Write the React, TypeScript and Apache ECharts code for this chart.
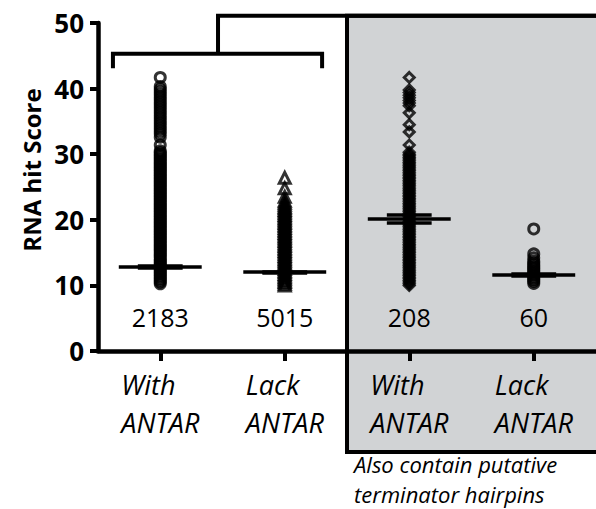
import React, { useEffect, useRef } from "react";
import * as echarts from "echarts";

const categories = ["With\nANTAR", "Lack\nANTAR", "With\nANTAR", "Lack\nANTAR"];
const counts = ["2183", "5015", "208", "60"];
const yTicks = { min: 0, max: 50, interval: 10 };
const yAxisTitle = "RNA hit Score";
const footnoteLines = ["Also contain putative", "terminator hairpins"];

// scores (overlapping markers)
const withAntarScores = [
  41.7, 40.3, 39.9, 39.5, 39.1, 38.7, 38.3, 37.9, 37.5, 37.1, 36.7, 36.3, 35.9, 35.5, 35.1,
  34.7, 34.3, 33.9, 33.5, 33.1, 32.6, 31.4,
  30.5, 30.25, 30.0, 29.75, 29.5, 29.25, 29.0, 28.75, 28.5, 28.25, 28.0, 27.75, 27.5, 27.25,
  27.0, 26.75, 26.5, 26.25, 26.0, 25.75, 25.5, 25.25, 25.0, 24.75, 24.5, 24.25, 24.0, 23.75,
  23.5, 23.25, 23.0, 22.75, 22.5, 22.25, 22.0, 21.75, 21.5, 21.25, 21.0, 20.75, 20.5, 20.25,
  20.0, 19.75, 19.5, 19.25, 19.0, 18.75, 18.5, 18.25, 18.0, 17.75, 17.5, 17.25, 17.0, 16.75,
  16.5, 16.25, 16.0, 15.75, 15.5, 15.25, 15.0, 14.75, 14.5, 14.25, 14.0, 13.75, 13.5, 13.25,
  13.0, 12.75, 12.5, 12.25, 12.0, 11.75, 11.5, 11.25, 11.0, 10.75, 10.5, 10.25,
];
const lackAntarScores = [
  26.4, 24.8, 23.5, 22.9, 22.6, 22.3, 22.0, 21.75, 21.5, 21.25, 21.0, 20.75, 20.5, 20.25,
  20.0, 19.75, 19.5, 19.25, 19.0, 18.75, 18.5, 18.25, 18.0, 17.75, 17.5, 17.25, 17.0, 16.75,
  16.5, 16.25, 16.0, 15.75, 15.5, 15.25, 15.0, 14.75, 14.5, 14.25, 14.0, 13.75, 13.5, 13.25,
  13.0, 12.75, 12.5, 12.25, 12.0, 11.75, 11.5, 11.25, 11.0, 10.75, 10.5, 10.25, 10.0,
];
const withAntarHairpinScores = [
  41.7, 39.8, 39.4, 39.0, 38.6, 38.2, 37.8, 37.4, 36.3, 34.5, 33.4, 31.4,
  30.3, 30.0, 29.75, 29.5, 29.25, 29.0, 28.75, 28.5, 28.25, 28.0, 27.75, 27.5, 27.25, 27.0,
  26.75, 26.5, 26.25, 26.0, 25.75, 25.5, 25.25, 25.0, 24.75, 24.5, 24.25, 24.0, 23.75, 23.5,
  23.25, 23.0, 22.75, 22.5, 22.25, 22.0, 21.75, 21.5, 21.25, 21.0, 20.75, 20.5, 20.25, 20.0,
  19.75, 19.5, 19.25, 19.0, 18.75, 18.5, 18.25, 18.0, 17.75, 17.5, 17.25, 17.0, 16.75, 16.5,
  16.25, 16.0, 15.75, 15.5, 15.25, 15.0, 14.75, 14.5, 14.25, 14.0, 13.75, 13.5, 13.25, 13.0,
  12.75, 12.5, 12.25, 12.0, 11.75, 11.5, 11.25, 11.0, 10.75, 10.5, 10.25, 10.0,
];
const lackAntarHairpinScores = [
  18.6, 14.8, 14.2, 13.7, 13.4, 13.1, 12.85, 12.6, 12.35, 12.1, 11.85, 11.6, 11.35, 11.1,
  10.85, 10.6, 10.3,
];

const medians = [12.85, 12.05, 20.1, 11.6];
const ciLow = [12.7, 11.95, 19.5, 11.4];
const ciHigh = [13.0, 12.15, 20.8, 11.8];
const markerShapes = ["circle", "triangle", "diamond", "circle"];

const FONT = "'Open Sans', 'DejaVu Sans', sans-serif";

export default function App() {
  const ref = useRef<HTMLDivElement>(null);
  useEffect(() => {
    const chart = echarts.init(ref.current!, null, { renderer: "svg" });
    const allScores = [withAntarScores, lackAntarScores, withAntarHairpinScores, lackAntarHairpinScores];

    const scatterSeries = allScores.map((scores, i) => ({
      type: "scatter",
      xAxisIndex: 0,
      yAxisIndex: 0,
      symbol: markerShapes[i],
      symbolSize: markerShapes[i] === "triangle" ? 11 : 10,
      itemStyle: { color: "rgba(0,0,0,0)", borderColor: "#000", borderWidth: 3 },
      data: scores.map((v) => [i, v]),
      z: 3,
    }));

    const option: any = {
      animation: false,
      backgroundColor: "#fff",
      grid: { left: 98, right: 0, top: 23, bottom: 158, containLabel: false },
      xAxis: [
        {
          type: "category",
          data: categories,
          boundaryGap: true,
          axisLine: { show: true, lineStyle: { color: "#000", width: 4.5 } },
          axisTick: { show: true, alignWithLabel: true, length: 10, lineStyle: { color: "#000", width: 4 } },
          axisLabel: {
            margin: 14,
            formatter: (v: string) => v.split("\n").map((s) => `{a|${s}}`).join("\n"),
            rich: {
              a: {
                fontFamily: FONT,
                fontStyle: "italic",
                fontSize: 27,
                lineHeight: 38,
                width: 78,
                align: "left",
                color: "#000",
              },
            },
          },
          splitLine: { show: false },
          z: 5,
        },
        { type: "value", min: 0, max: 4, show: false },
      ],
      yAxis: {
        type: "value",
        min: yTicks.min,
        max: yTicks.max,
        interval: yTicks.interval,
        name: yAxisTitle,
        nameLocation: "middle",
        nameGap: 52,
        nameTextStyle: {
          fontFamily: FONT,
          fontWeight: "bold",
          fontSize: 24,
          color: "#000",
          padding: [0, 0, 0, 34],
        },
        axisLine: { show: true, lineStyle: { color: "#000", width: 4.5 } },
        axisTick: { show: true, length: 8, lineStyle: { color: "#000", width: 4 } },
        axisLabel: { margin: 14, fontFamily: FONT, fontWeight: "bold", fontSize: 26, color: "#000" },
        splitLine: { show: false },
        z: 5,
      },
      series: [
        ...scatterSeries,
        {
          type: "lines",
          coordinateSystem: "cartesian2d",
          xAxisIndex: 1,
          yAxisIndex: 0,
          polyline: false,
          lineStyle: { color: "#000", width: 3.5, opacity: 1 },
          data: medians.map((m, i) => ({ coords: [[i + 0.167, m], [i + 0.833, m]] })),
          z: 4,
        },
        {
          type: "lines",
          coordinateSystem: "cartesian2d",
          xAxisIndex: 1,
          yAxisIndex: 0,
          polyline: false,
          lineStyle: { color: "#000", width: 3.5, opacity: 1 },
          data: [
            ...ciLow.map((m, i) => ({ coords: [[i + 0.32, m], [i + 0.68, m]] })),
            ...ciHigh.map((m, i) => ({ coords: [[i + 0.32, m], [i + 0.68, m]] })),
          ],
          z: 4,
        },
        {
          type: "scatter",
          xAxisIndex: 0,
          yAxisIndex: 0,
          symbolSize: 1,
          itemStyle: { color: "rgba(0,0,0,0)", opacity: 1 },
          data: counts.map((c, i) => [i, 5.2]),
          label: {
            show: true,
            position: "inside",
            formatter: (p: any) => counts[p.dataIndex],
            fontFamily: FONT,
            fontSize: 25,
            fontWeight: "normal",
            color: "#000",
            textBorderWidth: 0,
            opacity: 1,
          },
          z: 4,
        },
      ],
    };
    chart.setOption(option);

    const X = (v: number) => chart.convertToPixel({ xAxisIndex: 1 }, v) as number;
    const Y = (v: number) => chart.convertToPixel({ yAxisIndex: 0 }, v) as number;

    const boxLeft = X(2);
    const topY = Y(51.1);
    const bottomY = Y(-15.4);
    const bracketY = Y(45.3);
    const bracketEndY = Y(43.1);

    chart.setOption({
      graphic: [
        {
          type: "rect",
          z: -10,
          shape: { x: boxLeft, y: topY, width: 700 - boxLeft, height: bottomY - topY },
          style: { fill: "#d1d3d5", stroke: "#000", lineWidth: 4 },
        },
        {
          type: "polyline",
          z: 10,
          shape: { points: [[X(0.964), bracketY], [X(0.964), topY], [X(4.6), topY]] },
          style: { stroke: "#000", lineWidth: 4, fill: null },
        },
        {
          type: "polyline",
          z: 10,
          shape: {
            points: [
              [X(0.12), bracketEndY],
              [X(0.12), bracketY],
              [X(1.8), bracketY],
              [X(1.8), bracketEndY],
            ],
          },
          style: { stroke: "#000", lineWidth: 4, fill: null },
        },
        ...footnoteLines.map((line, k) => ({
          type: "text",
          z: 10,
          x: boxLeft + 7,
          y: bottomY + 12 + k * 30,
          style: {
            text: line,
            font: `italic 22px ${FONT}`,
            fill: "#000",
            textAlign: "left",
            textVerticalAlign: "middle",
          },
        })),
      ],
    });

    return () => chart.dispose();
  }, []);
  return (
    <div
      ref={ref}
      style={{ position: "fixed", left: 0, top: 0, width: 596, height: 509, background: "#fff" }}
    />
  );
}
